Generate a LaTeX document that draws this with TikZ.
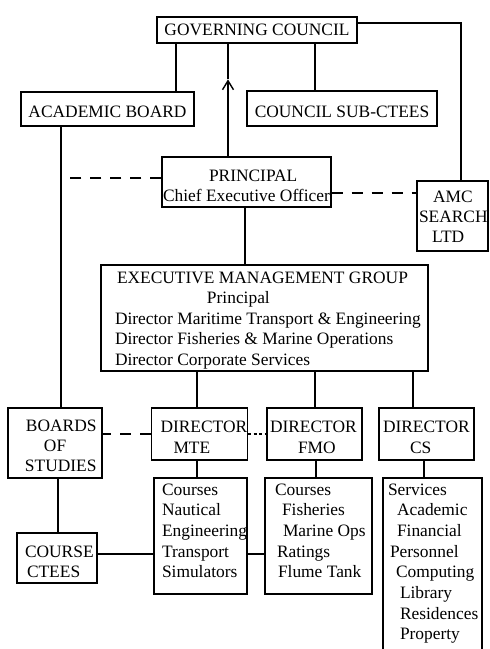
\documentclass[tikz,border=0pt]{standalone}
\usepackage{fontspec}
\setmainfont{Liberation Serif}
\usetikzlibrary{arrows.meta}

% #1 width, #2 height, #3 baselineskip, #4 first baseline below the top, #5 rows
\newcommand{\chartbox}[5]{%
  \parbox[c][#2][t]{#1}{\fontsize{17.4}{#3}\selectfont
    \vspace*{\dimexpr#4-\ht\strutbox\relax}#5}}
% a row set flush left after an indent
\newcommand{\rowat}[2]{\makebox[0pt][l]{\hspace*{#1}\strut #2}}
% a centred row
\newcommand{\rowmid}[1]{\makebox[\linewidth][c]{\strut #1}}

\tikzset{
  unit/.style={draw, line width=1.2pt, inner sep=0pt},
  link/.style={line width=1.2pt},
  dashlink/.style={line width=1.2pt, dash pattern=on 11pt off 9pt},
  dotlink/.style={line width=1.2pt, dash pattern=on 3pt off 2.5pt},
}

\begin{document}
\begin{tikzpicture}[x=1pt,y=-1pt]
\useasboundingbox (0,0) rectangle (490,649);
\fill[white] (0,0) rectangle (490,649);
\clip (0,0) rectangle (490,649);

% governing bodies
\node[unit] (gc) at (257,30)
  {\chartbox{200pt}{26pt}{20.7pt}{18pt}{\rowmid{GOVERNING COUNCIL}}};
\node[unit] (ab) at (107.5,109)
  {\chartbox{173pt}{34pt}{20.7pt}{25pt}{\rowmid{ACADEMIC BOARD}}};
\node[unit] (csc) at (342,108.5)
  {\chartbox{190pt}{35pt}{20.7pt}{26pt}{\rowmid{COUNCIL SUB-CTEES}}};

% principal and subsidiary
\node[unit] (pr) at (246.5,182)
  {\chartbox{169pt}{50pt}{20pt}{24pt}{\rowat{47pt}{PRINCIPAL}\\\rowat{1pt}{Chief Executive Officer}}};
\node[unit] (amc) at (452.5,216)
  {\chartbox{71pt}{70pt}{20pt}{21pt}{\rowat{16pt}{AMC}\\\rowat{2pt}{SEARCH}\\\rowat{15pt}{LTD}}};

% executive management group
\node[unit] (emg) at (264.5,318)
  {\chartbox{327pt}{106pt}{20.5pt}{18pt}{%
    \rowat{16pt}{EXECUTIVE MANAGEMENT GROUP}\\%
    \rowat{106pt}{Principal}\\%
    \rowat{14pt}{Director Maritime Transport \& Engineering}\\%
    \rowat{14pt}{Director Fisheries \& Marine Operations}\\%
    \rowat{14pt}{Director Corporate Services}}};

% academic committees
\node[unit] (bos) at (55,443)
  {\chartbox{94pt}{70pt}{20pt}{23pt}{\rowat{18pt}{BOARDS}\\\rowat{36pt}{OF}\\\rowat{17pt}{STUDIES}}};
\node[unit] (cc) at (57,558)
  {\chartbox{80pt}{50pt}{20pt}{24pt}{\rowat{8pt}{COURSE}\\\rowat{10pt}{CTEES}}};

% directors
\node[unit] (mte) at (199.5,434)
  {\chartbox{96pt}{52pt}{21pt}{24pt}{\rowat{9pt}{DIRECTOR}\\\rowat{22pt}{MTE}}};
\node[unit] (fmo) at (314.5,434)
  {\chartbox{95pt}{52pt}{21pt}{24pt}{\rowat{3pt}{DIRECTOR}\\\rowat{31pt}{FMO}}};
\node[unit] (dcs) at (426.5,434)
  {\chartbox{95pt}{52pt}{21pt}{24pt}{\rowat{4pt}{DIRECTOR}\\\rowat{31pt}{CS}}};

% departments
\node[unit] (mtec) at (200.5,536)
  {\chartbox{93pt}{116pt}{20.7pt}{17pt}{%
    \rowat{8pt}{Courses}\\\rowat{8pt}{Nautical}\\\rowat{8pt}{Engineering}\\%
    \rowat{8pt}{Transport}\\\rowat{8pt}{Simulators}}};
\node[unit] (fmoc) at (318.5,536)
  {\chartbox{107pt}{116pt}{20.7pt}{17pt}{%
    \rowat{10pt}{Courses}\\\rowat{17pt}{Fisheries}\\\rowat{18pt}{Marine Ops}\\%
    \rowat{12pt}{Ratings}\\\rowat{13pt}{Flume Tank}}};
\node[unit] (svc) at (432.5,569)
  {\chartbox{99pt}{182pt}{20.7pt}{17pt}{%
    \rowat{5pt}{Services}\\\rowat{14pt}{Academic}\\\rowat{14pt}{Financial}\\%
    \rowat{7pt}{Personnel}\\\rowat{13pt}{Computing}\\\rowat{17pt}{Library}\\%
    \rowat{17pt}{Residences}\\\rowat{17pt}{Property}}};

% links to the governing council
\coordinate (abtop) at ([xshift=68.5pt]ab.north);
\draw[link] (abtop) -- (abtop |- gc.south);
\coordinate (csctop) at ([xshift=-27pt]csc.north);
\draw[link] (csctop) -- (csctop |- gc.south);
\coordinate (prtop) at ([xshift=-18.5pt]pr.north);
\coordinate (tip) at ([yshift=77pt]prtop);
\draw[link,-{Straight Barb[length=9pt,width=11pt,line width=1.4pt]}] (prtop) -- (tip);
\draw[link] (tip) -- (tip |- gc.south);
\coordinate (gcside) at ([yshift=7pt]gc.east);
\coordinate (amctop) at ([xshift=8.5pt]amc.north);
\draw[link] (gcside) -| (amctop);

% academic line
\coordinate (abfoot) at ([xshift=-46.5pt]ab.south);
\draw[link] (abfoot) -- (abfoot |- bos.north);
\coordinate (prleft) at ([yshift=4pt]pr.west);
\draw[dashlink] (prleft) -- (prleft -| abfoot);
\coordinate (prright) at ([yshift=-11pt]pr.east);
\draw[dashlink] (prright) -- (prright -| amc.west);

% executive line
\coordinate (prfoot) at ([xshift=-1.5pt]pr.south);
\draw[link] (prfoot) -- (prfoot |- emg.north);
\coordinate (mtetop) at ([xshift=-2.5pt]mte.north);
\draw[link] (mtetop) -- (mtetop |- emg.south);
\coordinate (fmotop) at ([xshift=0.5pt]fmo.north);
\draw[link] (fmotop) -- (fmotop |- emg.south);
\coordinate (dcstop) at ([xshift=-13.5pt]dcs.north);
\draw[link] (dcstop) -- (dcstop |- emg.south);
\coordinate (mtefoot) at ([xshift=-2.5pt]mte.south);
\draw[link] (mtefoot) -- (mtefoot |- mtec.north);
\coordinate (fmofoot) at ([xshift=1.5pt]fmo.south);
\draw[link] (fmofoot) -- (fmofoot |- fmoc.north);
\coordinate (dcsfoot) at ([xshift=-2.5pt]dcs.south);
\draw[link] (dcsfoot) -- (dcsfoot |- svc.north);

% committees and courses
\coordinate (cctop) at ([xshift=1pt]cc.north);
\draw[link] (cctop) -- (cctop |- bos.south);
\draw[dashlink] (mte.west) -- (mte.west -| bos.east);
\draw[dotlink] (mte.east) -- (fmo.west);
\coordinate (ccside) at ([yshift=4pt]cc.east);
\draw[link] (ccside) -- (ccside -| mtec.west);
\coordinate (mtecside) at ([yshift=-18pt]mtec.east);
\draw[link] (mtecside) -- (mtecside -| fmoc.west);
\end{tikzpicture}
\end{document}
